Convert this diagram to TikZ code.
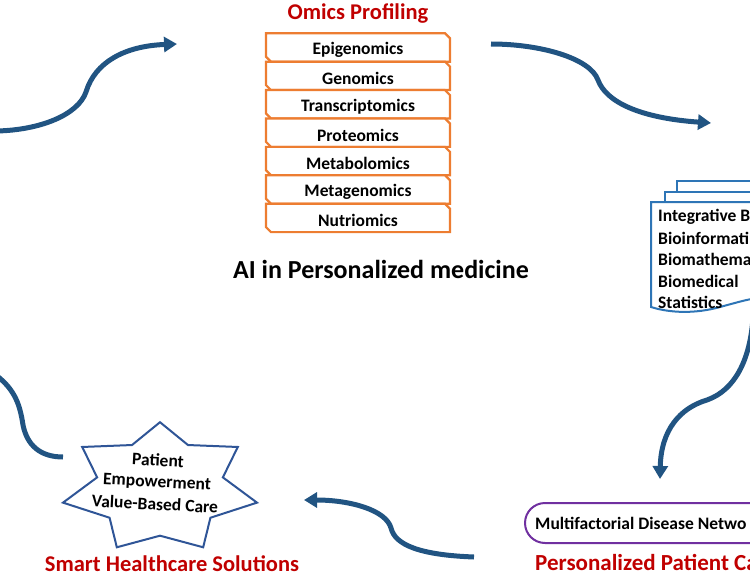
\documentclass[tikz,border=0pt]{standalone}
\usepackage{fontspec}
\setmainfont{Carlito}
\usetikzlibrary{arrows.meta}
\definecolor{titlered}{RGB}{192,0,0}
\definecolor{omicorange}{RGB}{237,125,49}
\definecolor{flowblue}{RGB}{33,84,130}
\definecolor{starblue}{RGB}{47,85,151}
\definecolor{docblue}{RGB}{46,117,182}
\definecolor{pillpurple}{RGB}{112,48,160}
\tikzset{
  omicbox/.style={draw=omicorange,line width=2.2pt,fill=white,line join=miter},
  omictext/.style={font=\bfseries\fontsize{17.5}{20}\selectfont,inner sep=0pt},
  redlabel/.style={font=\bfseries\fontsize{22.5}{26}\selectfont,text=titlered,inner sep=0pt},
  flow/.style={draw=flowblue,line width=5pt,-{Triangle[length=13pt,width=15pt]}},
  flowplain/.style={draw=flowblue,line width=5pt},
  docline/.style={draw=docblue,line width=2pt,fill=white},
  doctext/.style={font=\bfseries\fontsize{17.5}{20}\selectfont,inner sep=0pt,anchor=west},
  starline/.style={draw=starblue,line width=2pt,fill=white,line join=miter},
  startext/.style={font=\bfseries\fontsize{17.5}{20}\selectfont,inner sep=0pt,rotate=-3},
}
\begin{document}
\begin{tikzpicture}[x=1pt,y=-1pt]
\useasboundingbox (0,0) rectangle (750,575);
\clip (0,0) rectangle (750,575);

% title
\node[redlabel] (omicstitle) at (358,13) {Omics Profiling};

% omics boxes
\foreach \t [count=\i] in {Epigenomics,Genomics,Transcriptomics,Proteomics,Metabolomics,Metagenomics,Nutriomics}{
  \pgfmathsetmacro\tp{33.3+(\i-1)*28.4}
  \draw[omicbox] (266,\tp) -- (445,\tp) -- (450,\tp+5) -- (450,\tp+28.4) -- (271,\tp+28.4) -- (266,\tp+23.4) -- cycle;
  \node[omictext] (om\i) at (358,\tp+17) {\t};
}

% main title
\node[font=\bfseries\fontsize{26}{30}\selectfont,inner sep=0pt,anchor=base] (maintitle) at (381,278) {AI in Personalized medicine};

% document stack
\draw[docline] (677,192) -- (677,181) -- (770,181) -- (770,192);
\draw[docline] (665,202) -- (665,192) -- (770,192) -- (770,202);
\draw[docline] (651,202) -- (770,202) -- (770,298) -- (752,299)
  .. controls (745,300) and (735,303) .. (720,307)
  .. controls (695,314) and (670,313) .. (651,307) -- cycle;
\node[doctext] (d1) at (658,217) {Integrative B};
\node[doctext] (d2) at (658,238) {Bioinformati};
\node[doctext] (d3) at (658,259) {Biomathema};
\node[doctext] (d4) at (658,281) {Biomedical};
\node[doctext] (d5) at (658,302) {Statistics};

% star
\draw[starline] (160,422.2) \foreach \i in {1,...,13}{
  -- ({160+ifthenelse(isodd(\i),64.5,99.5)*cos(90-\i*360/14)},{488-ifthenelse(isodd(\i),47.7,65.8)*sin(90-\i*360/14)})
} -- cycle;
\node[startext] (s1) at (158,460) {Patient};
\node[startext] (s2) at (157,483) {Empowerment};
\node[startext] (s3) at (155,504) {Value-Based Care};
\node[redlabel,anchor=base] (smart) at (172,571.5) {Smart Healthcare Solutions};

% pill
\draw[draw=pillpurple,line width=2pt,rounded corners=20pt] (525,503) rectangle (800,543);
\node[font=\bfseries\fontsize{17.5}{20}\selectfont,inner sep=0pt,anchor=west] (pill) at (535,523) {Multifactorial Disease Netwo};
\node[redlabel,font=\bfseries\fontsize{23}{26}\selectfont,anchor=base west] (perscare) at (535,570) {Personalized Patient Ca};

% arrows
\coordinate (a1s) at (-3,131);
\coordinate (a1e) at (177,44);
\draw[flow] (a1s) .. controls (40,130) and (78,115) .. (86,92) .. controls (95,62) and (125,46) .. (a1e);

\coordinate (a2s) at (491,44);
\coordinate (a2e) at (711,123);
\draw[flow] (a2s) .. controls (540,44) and (590,58) .. (598,80) .. controls (606,102) and (640,118) .. (a2e);

\coordinate (a3s) at (753,318);
\coordinate (a3e) at (660,479);
\draw[flow] (a3s) .. controls (750,360) and (735,390) .. (707,400) .. controls (680,408) and (661,430) .. (a3e);

\coordinate (a4s) at (474,557);
\coordinate (a4e) at (304,500);
\draw[flow] (a4s) .. controls (420,555) and (395,545) .. (391,528) .. controls (386,510) and (350,500) .. (a4e);

\coordinate (a5s) at (-3,376);
\coordinate (a5e) at (63,457);
\draw[flowplain] (a5s) .. controls (15,390) and (20,405) .. (23,425) .. controls (27,445) and (40,457) .. (a5e);
\end{tikzpicture}
\end{document}
